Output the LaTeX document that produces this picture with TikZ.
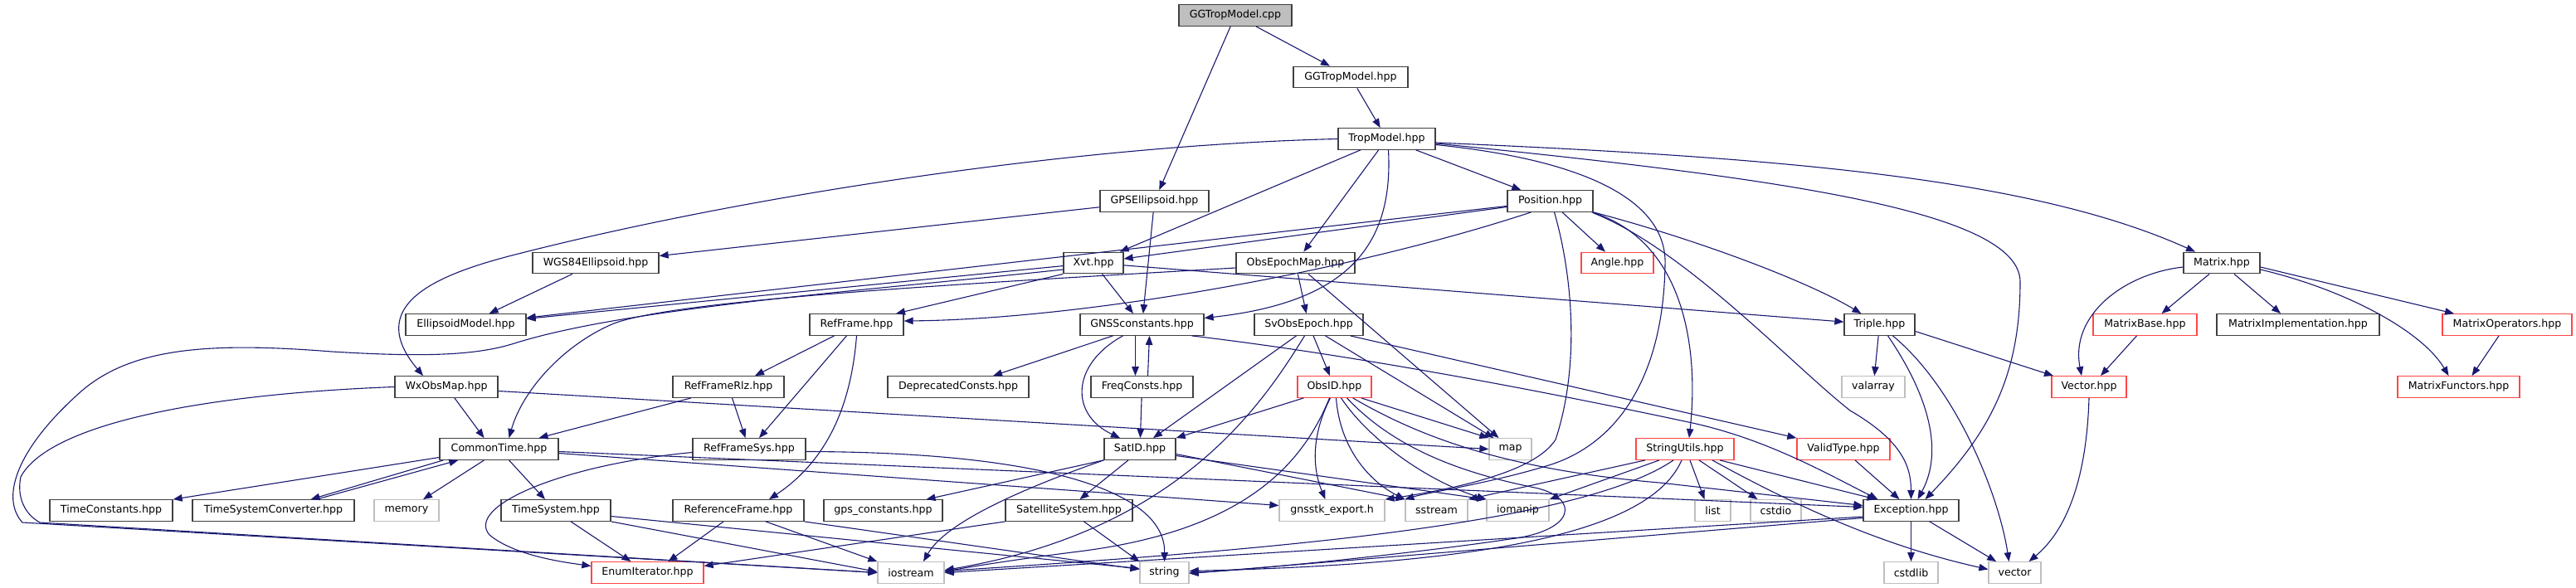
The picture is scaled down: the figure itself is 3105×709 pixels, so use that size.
\documentclass[tikz,border=0pt]{standalone}
\usepackage{fontspec}
\setmainfont{DejaVu Sans}
\usetikzlibrary{arrows.meta}
\definecolor{edgec}{RGB}{25,25,112}
\definecolor{bordc}{RGB}{64,64,64}
\definecolor{redc}{RGB}{255,70,70}
\definecolor{grayc}{RGB}{191,191,191}
\begin{document}
\begin{tikzpicture}[x=1pt,y=-1pt,
  nd/.style={draw=bordc, line width=1.3pt, fill=white, minimum height=25.5pt, inner sep=0pt, font=\fontsize{12.6}{15}\selectfont, text=black},
  rd/.style={nd, draw=redc},
  gr/.style={nd, draw=grayc},
  mn/.style={nd, fill=grayc},
  e/.style={draw=edgec, line width=1.1pt, -{Triangle[length=11pt,width=8.5pt]}}]
\useasboundingbox (0,0) rectangle (3105,709);
% nodes
\node[mn, minimum width=136pt] (cpp) at (1489,18.5) {GGTropModel.cpp};
\node[nd, minimum width=138pt] (gghpp) at (1628,93) {GGTropModel.hpp};
\node[nd, minimum width=117pt] (trop) at (1671.5,167.5) {TropModel.hpp};
\node[nd, minimum width=131pt] (gpsell) at (1391.5,242.5) {GPSEllipsoid.hpp};
\node[nd, minimum width=103pt] (pos) at (1868.5,242.5) {Position.hpp};
\node[nd, minimum width=152pt] (wgs) at (718,317) {WGS84Ellipsoid.hpp};
\node[nd, minimum width=72pt] (xvt) at (1318,317) {Xvt.hpp};
\node[nd, minimum width=143pt] (oem) at (1561.5,317) {ObsEpochMap.hpp};
\node[rd, minimum width=87pt] (angle) at (1949.5,317) {Angle.hpp};
\node[nd, minimum width=92pt] (matrix) at (2678,317) {Matrix.hpp};
\node[nd, minimum width=145pt] (ellm) at (561.5,391.5) {EllipsoidModel.hpp};
\node[nd, minimum width=113pt] (refframe) at (1032.5,391.5) {RefFrame.hpp};
\node[nd, minimum width=149pt] (gnssc) at (1376.5,391.5) {GNSSconstants.hpp};
\node[nd, minimum width=131pt] (svoe) at (1577.5,391.5) {SvObsEpoch.hpp};
\node[nd, minimum width=85pt] (triple) at (2265.5,391.5) {Triple.hpp};
\node[rd, minimum width=125pt] (mbase) at (2585.5,391.5) {MatrixBase.hpp};
\node[nd, minimum width=196pt] (mimpl) at (2770,391.5) {MatrixImplementation.hpp};
\node[rd, minimum width=156pt] (mops) at (3022,391.5) {MatrixOperators.hpp};
\node[nd, minimum width=124pt] (wxo) at (538,466.5) {WxObsMap.hpp};
\node[nd, minimum width=134pt] (rfrlz) at (878,466.5) {RefFrameRlz.hpp};
\node[nd, minimum width=170pt] (depc) at (1155,466.5) {DeprecatedConsts.hpp};
\node[nd, minimum width=123pt] (freq) at (1376.5,466.5) {FreqConsts.hpp};
\node[rd, minimum width=89pt] (obsid) at (1608.5,466.5) {ObsID.hpp};
\node[gr, minimum width=76pt] (valarray) at (2258,466.5) {valarray};
\node[rd, minimum width=90pt] (vectorh) at (2518,466.5) {Vector.hpp};
\node[rd, minimum width=147pt] (mfun) at (2963.5,466.5) {MatrixFunctors.hpp};
\node[nd, minimum width=143pt] (ct) at (601.5,541.5) {CommonTime.hpp};
\node[nd, minimum width=136pt] (rfsys) at (903,541.5) {RefFrameSys.hpp};
\node[nd, minimum width=86pt] (satid) at (1374,541.5) {SatID.hpp};
\node[gr, minimum width=51pt] (map) at (1820.5,541.5) {map};
\node[rd, minimum width=118pt] (su) at (2031,541.5) {StringUtils.hpp};
\node[rd, minimum width=112pt] (vt) at (2222,541.5) {ValidType.hpp};
\node[nd, minimum width=148pt] (tc) at (134,615.5) {TimeConstants.hpp};
\node[nd, minimum width=195pt] (tsc) at (329.5,615.5) {TimeSystemConverter.hpp};
\node[gr, minimum width=78pt] (memory) at (490,615.5) {memory};
\node[nd, minimum width=132pt] (ts) at (670,615.5) {TimeSystem.hpp};
\node[nd, minimum width=158pt] (rf) at (890,615.5) {ReferenceFrame.hpp};
\node[nd, minimum width=143pt] (gpsc) at (1064.5,615.5) {gps\_constants.hpp};
\node[nd, minimum width=153pt] (satsys) at (1288.5,615.5) {SatelliteSystem.hpp};
\node[gr, minimum width=127pt] (gexp) at (1605.5,615.5) {gnsstk\_export.h};
\node[gr, minimum width=75pt] (sstream) at (1731.5,615.5) {sstream};
\node[gr, minimum width=75pt] (iomanip) at (1829.5,615.5) {iomanip};
\node[gr, minimum width=43pt] (list) at (2064.5,615.5) {list};
\node[gr, minimum width=61pt] (cstdio) at (2140.5,615.5) {cstdio};
\node[nd, minimum width=115pt] (exc) at (2303.5,615.5) {Exception.hpp};
\node[rd, minimum width=135pt] (enum) at (780.5,690.5) {EnumIterator.hpp};
\node[gr, minimum width=80pt] (iostream) at (1098,690.5) {iostream};
\node[gr, minimum width=59pt] (string) at (1403.5,690.5) {string};
\node[gr, minimum width=65pt] (cstdlib) at (2303.5,690.5) {cstdlib};
\node[gr, minimum width=63pt] (vector) at (2428.5,690.5) {vector};
% top
\draw[e] (cpp) -- (gghpp);
\draw[e] (cpp) -- (gpsell);
\draw[e] (gghpp) -- (trop);
% TropModel
\draw[e] (trop.west) .. controls (1300,175) and (900,235) .. (617,308) .. controls (520,333) and (440,370) .. ([xshift=-28pt]wxo.north);
\draw[e] (trop) -- (xvt);
\draw[e] (trop) -- (oem);
\draw[e] ([xshift=2pt]trop.south) .. controls (1680,300) and (1620,365) .. ([yshift=8pt]gnssc.east);
\draw[e] (trop) -- (pos);
\draw[e] ([yshift=-4.5pt]trop.east) .. controls (2150,190) and (2450,215) .. ([xshift=-32pt]matrix.north);
\draw[e] ([yshift=-5.5pt]trop.east) .. controls (2150,215) and (2435,255) .. (2435,340) .. controls (2435,450) and (2400,520) .. ([xshift=17pt]exc.north);
\draw[e] ([yshift=-7pt]trop.east) .. controls (1930,195) and (2010,250) .. (2007,320) .. controls (2005,440) and (1960,530) .. (1870,560) .. controls (1800,582) and (1720,594) .. (sstream.north west);
% GPSEllipsoid
\draw[e] (gpsell) -- (wgs);
\draw[e] (gpsell) -- (gnssc);
% Position
\draw[e] (pos) -- (xvt);
\draw[e] (pos) -- (ellm);
\draw[e] ([xshift=-23pt]pos.south) .. controls (1620,330) and (1300,385) .. ([yshift=4.5pt]refframe.east);
\draw[e] (pos) -- (angle);
\draw[e] (pos.south east) .. controls (2050,290) and (2180,340) .. ([xshift=-22pt]triple.north);
\draw[e] ([yshift=-1pt]pos.south east) .. controls (2030,300) and (2160,440) .. (2230,495) .. controls (2290,530) and (2303.5,560) .. (exc.north);
\draw[e] ([xshift=-2pt]pos.south east) .. controls (2030,290) and (2048,420) .. ([xshift=5pt]su.north);
\draw[e] ([xshift=5pt]pos.south) .. controls (1895,330) and (1905,440) .. (1875,530) .. controls (1850,570) and (1750,590) .. (gexp.north east);
% WGS84
\draw[e] (wgs) -- (ellm);
% Xvt
\draw[e] (xvt) -- (ellm);
\draw[e] (xvt.south west) -- ([xshift=47.5pt]refframe.north);
\draw[e] (xvt) -- (gnssc);
\draw[e] (xvt) -- (triple);
\draw[e] ([yshift=-8pt]xvt.west) .. controls (1050,350) and (760,370) .. (620,414) .. controls (570,430) and (500,430) .. (400,424) .. controls (250,412) and (160,420) .. (100,470) .. controls (20,540) and (0,600) .. (27,630) -- (iostream.west);
% ObsEpochMap
\draw[e] (oem) -- (svoe);
\draw[e] (oem) -- ([xshift=-14pt]map.north);
\draw[e] ([yshift=-6pt]oem.west) .. controls (1200,340) and (820,360) .. (740,390) .. controls (680,415) and (630,470) .. ([xshift=12pt]ct.north);
% Matrix
\draw[e] ([yshift=-5pt]matrix.west) .. controls (2560,330) and (2495,380) .. ([xshift=-9pt]vectorh.north);
\draw[e] ([xshift=-15pt]matrix.south) -- ([xshift=20pt]mbase.north);
\draw[e] ([xshift=15pt]matrix.south) -- ([xshift=-21pt]mimpl.north);
\draw[e] ([yshift=-5pt]matrix.east) -- ([xshift=-64pt]mops.north);
\draw[e] ([yshift=-8pt]matrix.east) .. controls (2830,350) and (2920,400) .. ([xshift=-12pt]mfun.north);
\draw[e] ([xshift=-10pt]mbase.south) -- ([xshift=14pt]vectorh.north);
\draw[e] ([xshift=-10pt]mops.south) -- ([xshift=16pt]mfun.north);
% Triple
\draw[e] (triple) -- (valarray);
\draw[e] ([xshift=10pt]triple.south) .. controls (2320,470) and (2345,540) .. ([xshift=8pt]exc.north);
\draw[e] ([xshift=16pt]triple.south) .. controls (2360,470) and (2410,600) .. ([xshift=-7pt]vector.north);
\draw[e] ([yshift=-8pt]triple.east) -- ([xshift=-43pt]vectorh.north);
\draw[e] (vectorh.south) .. controls (2515,580) and (2490,640) .. ([xshift=17pt]vector.north);
% RefFrame family
\draw[e] ([xshift=-27pt]refframe.south) -- ([xshift=32pt]rfrlz.north);
\draw[e] ([xshift=-12pt]refframe.south) -- ([xshift=12pt]rfsys.north);
\draw[e] (refframe.south) .. controls (1025,500) and (990,560) .. ([xshift=37pt]rf.north);
\draw[e] ([xshift=-45pt]rfrlz.south) -- ([xshift=48pt]ct.north);
\draw[e] (rfrlz) -- (rfsys);
\draw[e] ([yshift=-4pt]rfsys.west) .. controls (680,560) and (560,610) .. (590,645) .. controls (620,670) and (680,678) .. ([yshift=8pt]enum.west);
\draw[e] ([yshift=-3pt]rfsys.east) .. controls (1250,545) and (1405,590) .. (string.north);
\draw[e] ([xshift=-18pt]rf.south) -- ([xshift=25pt]enum.north);
\draw[e] ([xshift=33pt]rf.south) -- (iostream.north west);
\draw[e] (rf.south east) -- ([yshift=4pt]string.west);
% TimeSystem
\draw[e] ([xshift=18pt]ts.south) -- ([xshift=-20pt]enum.north);
\draw[e] ([yshift=-7pt]ts.east) -- ([yshift=5pt]string.west);
\draw[e] (ts.south east) -- ([yshift=1pt]iostream.west);
% SatelliteSystem
\draw[e] (satsys.south west) -- ([yshift=8pt]enum.east);
\draw[e] ([xshift=18pt]satsys.south) -- (string.north west);
% GNSSconstants
\draw[e] ([xshift=-35pt]gnssc.south) -- ([xshift=42pt]depc.north);
\draw[e] ([xshift=-8pt]gnssc.south) -- ([xshift=-8pt]freq.north);
\draw[e] ([xshift=7pt]freq.north) -- ([xshift=9pt]gnssc.south);
\draw[e] (freq) -- (satid);
\draw[e] ([xshift=-23pt]gnssc.south) .. controls (1290,440) and (1290,500) .. ([xshift=-24pt]satid.north);
\draw[e] ([xshift=60pt]gnssc.south) .. controls (1650,430) and (1900,480) .. (2040,510) .. controls (2130,530) and (2200,570) .. ([xshift=-40pt]exc.north);
% SvObsEpoch
\draw[e] ([xshift=-15pt]svoe.south) -- ([xshift=16pt]satid.north);
\draw[e] (svoe) -- (obsid);
\draw[e] ([xshift=20pt]svoe.south) -- ([xshift=-20pt]map.north);
\draw[e] ([xshift=-16pt]svoe.south east) -- (vt.north west);
\draw[e] ([xshift=-5pt]svoe.south) .. controls (1520,490) and (1420,640) .. ([yshift=3pt]iostream.east);
% ObsID
\draw[e] ([xshift=8pt]obsid.south west) -- (satid.north east);
\draw[e] ([xshift=-13pt]obsid.south east) -- (map.north west);
\draw[e] ([xshift=-5pt]obsid.south) .. controls (1583,520) and (1580,560) .. ([xshift=-8pt]gexp.north);
\draw[e] ([xshift=2pt]obsid.south) .. controls (1615,540) and (1650,580) .. (sstream.north west);
\draw[e] ([xshift=8pt]obsid.south) .. controls (1650,530) and (1720,580) .. (iomanip.north west);
\draw[e] ([xshift=15pt]obsid.south) .. controls (1680,540) and (1760,570) .. (1850,588) .. controls (1905,600) and (1900,640) .. (1820,650) .. controls (1700,668) and (1500,688) .. (string.east);
\draw[e] ([xshift=-23pt]obsid.south east) .. controls (1700,520) and (1800,565) .. (2000,582) -- ([yshift=6pt]exc.west);
\draw[e] ([xshift=-6pt]obsid.south) .. controls (1570,560) and (1500,640) .. (1300,665) .. controls (1220,675) and (1160,685) .. ([yshift=1pt]iostream.east);
% WxObsMap
\draw[e] (wxo) -- ([xshift=-18pt]ct.north);
\draw[e] ([yshift=-5pt]wxo.east) -- (map.west);
\draw[e] (wxo.west) .. controls (250,475) and (60,510) .. (25,575) .. controls (20,600) and (30,620) .. (48,630) -- (iostream.west);
% CommonTime
\draw[e] ([yshift=-10pt]ct.west) -- (tc.north east);
\draw[e] ([xshift=5pt]ct.south west) -- ([xshift=45pt]tsc.north);
\draw[e] ([xshift=52pt]tsc.north) -- ([xshift=23pt]ct.south west);
\draw[e] ([xshift=-18pt]ct.south) -- ([xshift=20pt]memory.north);
\draw[e] ([xshift=12pt]ct.south) -- ([xshift=-13pt]ts.north);
\draw[e] ([yshift=-5pt]ct.east) -- ([yshift=6pt]gexp.west);
\draw[e] ([yshift=-3pt]ct.east) -- ([yshift=4pt]exc.west);
% SatID
\draw[e] (satid.south west) -- ([xshift=52pt]gpsc.north);
\draw[e] ([xshift=-14pt]satid.south) -- ([xshift=13pt]satsys.north);
\draw[e] (satid.south west) .. controls (1230,590) and (1140,630) .. ([xshift=15pt]iostream.north);
\draw[e] ([yshift=-6pt]satid.east) -- (sstream.north west);
\draw[e] ([yshift=-8pt]satid.east) -- (iomanip.north west);
% StringUtils
\draw[e] ([xshift=-31pt]su.south) -- (iomanip.north east);
\draw[e] ([xshift=-48pt]su.south) -- (sstream.north east);
\draw[e] ([xshift=-14pt]su.south) .. controls (1900,635) and (1500,665) .. ([yshift=2pt]iostream.east);
\draw[e] ([xshift=-4pt]su.south) .. controls (1990,640) and (1800,680) .. ([yshift=2pt]string.east);
\draw[e] ([xshift=6pt]su.south) -- ([xshift=-10pt]list.north);
\draw[e] ([xshift=17pt]su.south) -- ([xshift=-22pt]cstdio.north);
\draw[e] ([xshift=42pt]su.south) -- ([xshift=-42pt]exc.north);
\draw[e] ([xshift=33pt]su.south) .. controls (2200,630) and (2300,665) .. ([yshift=4pt]vector.west);
% ValidType
\draw[e] ([xshift=14pt]vt.south) -- ([xshift=-14pt]exc.north);
% Exception
\draw[e] ([yshift=-7.5pt]exc.west) -- (iostream.east);
\draw[e] ([yshift=-9pt]exc.west) -- ([yshift=-1pt]string.east);
\draw[e] (exc) -- (cstdlib);
\draw[e] (exc) -- (vector);
\end{tikzpicture}
\end{document}
